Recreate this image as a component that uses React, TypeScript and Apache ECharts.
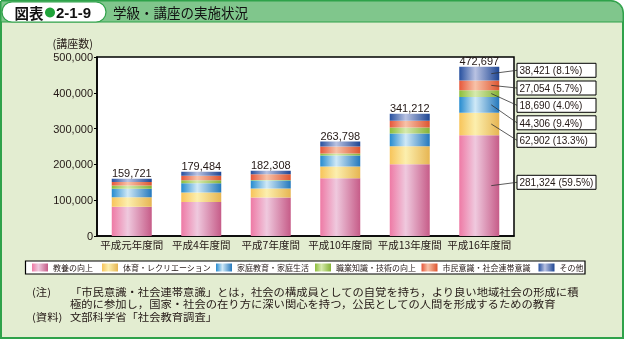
import React, { useEffect, useRef } from 'react';
import * as echarts from 'echarts';

const categories = ['平成元年度間', '平成4年度間', '平成7年度間', '平成10年度間', '平成13年度間', '平成16年度間'];
const seriesNames = ['教養の向上', '体育・レクリエーション', '家庭教育・家庭生活', '職業知識・技術の向上', '市民意識・社会連帯意識', 'その他'];
const kyoyo = [81500, 94800, 107800, 161000, 200300, 281324];
const taiiku = [27000, 26700, 24900, 33300, 50100, 62902];
const katei = [23300, 25800, 22100, 30500, 36100, 44306];
const shokugyo = [9300, 8300, 1900, 5600, 16700, 18690];
const shimin = [9800, 12900, 15600, 19500, 18500, 27054];
const sonota = [8821, 10984, 10008, 13898, 19512, 38421];
const totals = [159721, 179484, 182308, 263798, 341212, 472697];
const yMax = 500000;
const yInterval = 100000;

const noteLines = [
  '「市民意識・社会連帯意識」とは，社会の構成員としての自覚を持ち，より良い地域社会の形成に積',
  '極的に参加し，国家・社会の在り方に深い関心を持つ，公民としての人間を形成するための教育',
];
const sourceText = '文部科学省「社会教育調査」';

const JP = '"Noto Sans CJK JP", sans-serif';
const NUM = '"Liberation Sans", Arial, "Noto Sans CJK JP", sans-serif';
const TXT = '#231815';

const gradStops: string[][] = [
  ['#EE7AA5', '#EFC9DE', '#C65C88'],
  ['#F7C45A', '#FCEFAE', '#E6B552'],
  ['#268BCF', '#CFE9F7', '#2478BC'],
  ['#8CBD3A', '#D6EAAE', '#84B236'],
  ['#E6573A', '#F8C2A8', '#DE5530'],
  ['#27509F', '#B9C2E2', '#1D4593'],
];
const grad = (c: string[]) =>
  new echarts.graphic.LinearGradient(0, 0, 1, 0, [
    { offset: 0, color: c[0] },
    { offset: 0.4, color: c[1] },
    { offset: 1, color: c[2] },
  ]);

const legendX = [32, 102, 216, 315, 421.5, 538.5];
const boxCenterY = [182.3, 140.3, 122.8, 105.3, 88, 70.3];

export default function App() {
  const ref = useRef<HTMLDivElement>(null);
  useEffect(() => {
    if (!ref.current) return;
    const chart = echarts.init(ref.current, null, { renderer: 'svg' });
    const stacks = [kyoyo, taiiku, katei, shokugyo, shimin, sonota];
    const series = stacks.map((arr, i) => ({
      name: seriesNames[i],
      type: 'bar',
      stack: 'total',
      barWidth: 40,
      data: arr,
      itemStyle: { color: grad(gradStops[i]) },
      label:
        i === stacks.length - 1
          ? {
              show: true,
              position: 'top',
              distance: 0,
              formatter: (p: any) => totals[p.dataIndex].toLocaleString('en-US'),
              fontSize: 11,
              fontFamily: NUM,
              color: TXT,
            }
          : { show: false },
    }));
    const legends = seriesNames.map((n, i) => ({
      left: legendX[i],
      top: 262.5,
      padding: 0,
      itemGap: 0,
      itemWidth: 16,
      itemHeight: 8,
      icon: 'rect',
      selectedMode: false,
      textStyle: { fontSize: 8, lineHeight: 10, fontFamily: JP, color: TXT, padding: 0 },
      data: [n],
    }));
    chart.setOption({
      animation: false,
      backgroundColor: 'transparent',
      grid: {
        left: 97,
        top: 57,
        width: 417,
        height: 179,
        show: true,
        backgroundColor: '#ffffff',
        borderColor: '#000',
        borderWidth: 1.5,
      },
      xAxis: {
        type: 'category',
        data: categories,
        axisTick: { show: false },
        axisLine: { lineStyle: { color: '#000', width: 1.5 } },
        axisLabel: { interval: 0, fontSize: 10.5, fontFamily: JP, color: TXT, margin: 3 },
      },
      yAxis: {
        type: 'value',
        min: 0,
        max: yMax,
        interval: yInterval,
        name: '(講座数)',
        nameLocation: 'end',
        nameGap: 8,
        nameTextStyle: { fontSize: 11, fontFamily: JP, color: TXT, align: 'right', padding: [0, 4, 0, 0], lineHeight: 12 },
        splitLine: { show: false },
        axisLine: { show: true, lineStyle: { color: '#000', width: 1.5 } },
        axisTick: { show: true, length: 3, lineStyle: { color: '#000' } },
        axisLabel: {
          fontSize: 11,
          fontFamily: NUM,
          color: TXT,
          margin: 4,
          formatter: (v: number) => v.toLocaleString('en-US'),
        },
      },
      legend: legends,
      series,
    });

    const last = categories.length - 1;
    let cum = 0;
    const annot: any[] = [];
    stacks.forEach((arr, i) => {
      const v = arr[last];
      const mid = cum + v / 2;
      cum += v;
      const p = chart.convertToPixel({ gridIndex: 0 }, [last, mid]) as number[];
      const cy = boxCenterY[i];
      const pct = ((v / totals[last]) * 100).toFixed(1);
      annot.push({
        type: 'line',
        shape: { x1: p[0] + 12, y1: p[1], x2: 517, y2: cy },
        style: { stroke: '#333', lineWidth: 0.8 },
        z: 100,
      });
      annot.push({
        type: 'rect',
        shape: { x: 517, y: cy - 7, width: 79, height: 14 },
        style: { fill: '#fff', stroke: '#000', lineWidth: 1 },
        z: 100,
      });
      annot.push({
        type: 'text',
        x: 519.5,
        y: cy + 0.5,
        style: {
          text: `${v.toLocaleString('en-US')} (${pct}%)`,
          fontSize: 10,
          fontFamily: NUM,
          fill: TXT,
          verticalAlign: 'middle',
          align: 'left',
        },
        z: 101,
      });
    });

    const noteStyle = { fontSize: 10.2, lineHeight: 11, fontFamily: JP, fill: TXT, verticalAlign: 'middle' };
    const note = (x: number, y: number, text: string) => ({
      type: 'text',
      x,
      y,
      scaleX: 1.11,
      style: { text, ...noteStyle },
    });
    const frame: any[] = [
      {
        type: 'rect',
        shape: { x: 1, y: 1, width: 622, height: 337, r: [0, 12, 0, 0] },
        style: { fill: '#E3EDD1', stroke: '#2FA24A', lineWidth: 2 },
        z: -10,
      },
      {
        type: 'rect',
        shape: { x: 1, y: 1, width: 622, height: 21, r: [0, 12, 0, 0] },
        style: { fill: '#80C68C', stroke: '#2FA24A', lineWidth: 1 },
        z: -9,
      },
      {
        type: 'rect',
        shape: { x: 2, y: 2, width: 104, height: 20, r: 10 },
        style: { fill: '#fff', stroke: '#2FA24A', lineWidth: 1.2 },
        z: -8,
      },
      {
        type: 'rect',
        shape: { x: 25.5, y: 261, width: 559.5, height: 13 },
        style: { fill: '#fff', stroke: '#000', lineWidth: 1.2 },
        z: -5,
      },
      {
        type: 'text',
        x: 14.5,
        y: 12.5,
        style: { text: '図表', fontSize: 14.5, fontWeight: 'bold', fontFamily: JP, fill: '#111', verticalAlign: 'middle' },
      },
      { type: 'circle', shape: { cx: 50, cy: 12.5, r: 5 }, style: { fill: '#1FA33A' } },
      {
        type: 'text',
        x: 56,
        y: 12.5,
        style: { text: '2-1-9', fontSize: 15, fontWeight: 'bold', fontFamily: NUM, fill: '#111', verticalAlign: 'middle' },
      },
      {
        type: 'text',
        x: 113,
        y: 12,
        style: { text: '学級・講座の実施状況', fontSize: 13.5, fontFamily: JP, fill: '#111', verticalAlign: 'middle' },
      },
      note(32, 291.7, '(注)'),
      note(70, 291.7, noteLines[0]),
      note(70, 304.2, noteLines[1]),
      note(32, 316.4, '(資料)'),
      note(70, 316.4, sourceText),
    ];

    chart.setOption({ graphic: { elements: [...frame, ...annot] } });
    return () => chart.dispose();
  }, []);
  return <div ref={ref} style={{ position: 'fixed', left: 0, top: 0, width: 624, height: 340 }} />;
}
